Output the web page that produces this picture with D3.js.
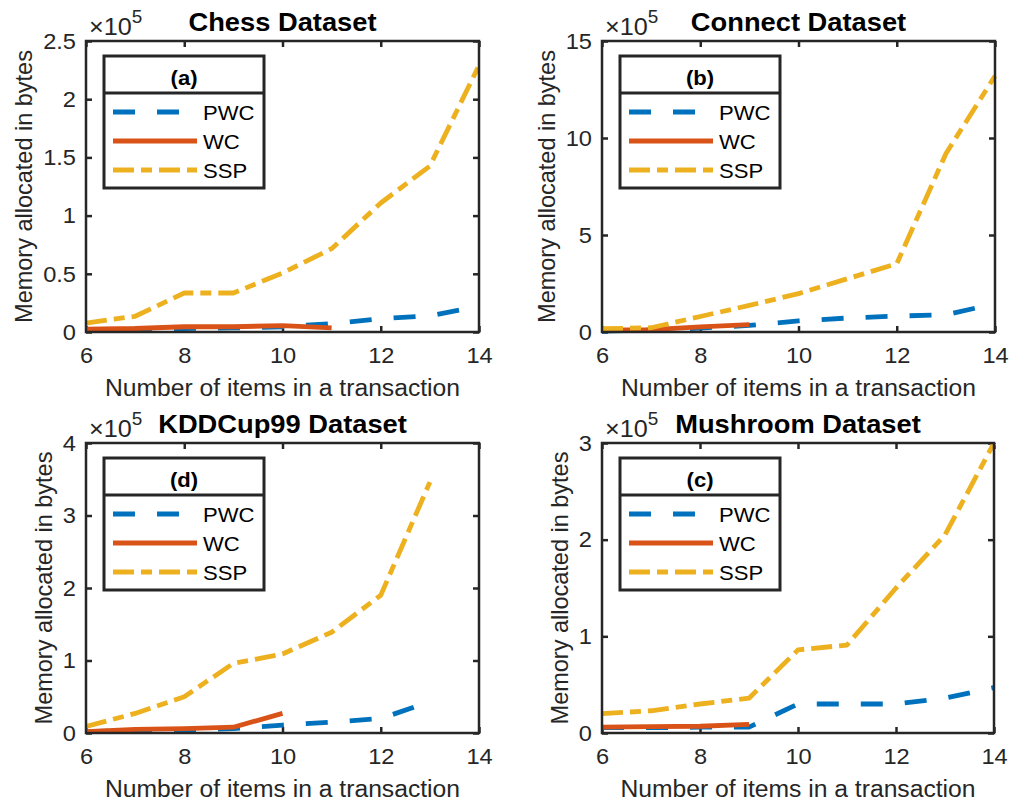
<!DOCTYPE html>
<html><head><meta charset="utf-8">
<script src="https://cdn.jsdelivr.net/npm/d3@7"></script>
<style>
body{margin:0;background:#fff}
text{font-family:"Liberation Sans",Arial,Helvetica,sans-serif}
</style>
</head><body>
<svg id="c" width="1011" height="805"></svg>
<script>
// ---------- data ----------
const xValues = [6, 7, 8, 9, 10, 11, 12, 13, 14];
const xTicks = [6, 8, 10, 12, 14];
const seriesNames = ["PWC", "WC", "SSP"];

// Chess dataset (bytes)
const chessPWC = [2000, 2500, 3000, 3500, 4500, 7200, 11500, 14000, 22000];
const chessWC  = [2500, 3000, 4500, 4500, 5500, 3500];
const chessSSP = [7700, 13500, 33500, 33500, 50700, 71600, 110800, 142600, 229000];
const chessTicks = [0, 50000, 100000, 150000, 200000, 250000];
const chessTickLabels = ["0", "0.5", "1", "1.5", "2", "2.5"];

// Connect dataset (bytes)
const connectPWC = [5000, 10000, 20000, 34000, 57000, 72000, 82000, 89000, 146000];
const connectWC  = [9000, 12000, 26000, 38000];
const connectSSP = [17000, 22000, 80000, 137000, 198000, 275000, 352000, 919000, 1320000];
const connectTicks = [0, 500000, 1000000, 1500000];
const connectTickLabels = ["0", "5", "10", "15"];

// KDDCup99 dataset (bytes)
const kddPWC = [2000, 3000, 4000, 6000, 11000, 15000, 20000, 43000];
const kddWC  = [2000, 5000, 6000, 8000, 27000];
const kddSSP = [9000, 27000, 50000, 96000, 109000, 139000, 190000, 346000];
const kddTicks = [0, 100000, 200000, 300000, 400000];
const kddTickLabels = ["0", "1", "2", "3", "4"];

// Mushroom dataset (bytes)
const mushPWC = [5500, 5500, 6000, 6000, 30000, 30000, 30000, 36000, 47000];
const mushWC  = [6000, 6500, 7000, 9000];
const mushSSP = [20000, 23000, 30000, 36000, 86000, 91000, 150000, 205000, 300000];
const mushTicks = [0, 100000, 200000, 300000];
const mushTickLabels = ["0", "1", "2", "3"];

const titles = ["Chess Dataset", "Connect Dataset", "KDDCup99 Dataset", "Mushroom Dataset"];
const tags = ["(a)", "(b)", "(d)", "(c)"];
const xLabel = "Number of items in a transaction";
const yLabel = "Memory allocated in bytes";

// ---------- layout / style ----------
const panels = [
  {left: 86,  top: 41,  right: 479, bottom: 332, ymax: 250000,  series: [chessPWC, chessWC, chessSSP], ticks: chessTicks, labels: chessTickLabels},
  {left: 602, top: 41,  right: 995, bottom: 332, ymax: 1500000, series: [connectPWC, connectWC, connectSSP], ticks: connectTicks, labels: connectTickLabels},
  {left: 86,  top: 443, right: 479, bottom: 733, ymax: 400000,  series: [kddPWC, kddWC, kddSSP], ticks: kddTicks, labels: kddTickLabels},
  {left: 602, top: 443, right: 994, bottom: 733, ymax: 300000,  series: [mushPWC, mushWC, mushSSP], ticks: mushTicks, labels: mushTickLabels}
];
const colors = ["#0072BD", "#D95319", "#EDB120"];
const dashes = ["22,22", null, "21,7,11,7"];
const LW = 4.8;
const SX = 1.05;           // slight horizontal stretch of the original
const ink = "#262626";

const svg = d3.select("#c");

function stretchText(sel) {
  sel.each(function () {
    const t = d3.select(this);
    const x = +(t.attr("x") || 0), y = +(t.attr("y") || 0);
    t.attr("x", null).attr("y", null)
     .attr("transform", `translate(${x},${y}) scale(${SX},1)`);
  });
}

panels.forEach((p, pi) => {
  const g = svg.append("g");
  const x = d3.scaleLinear().domain([6, 14]).range([p.left, p.right]);
  const y = d3.scaleLinear().domain([0, p.ymax]).range([p.bottom, p.top]);

  // axes (inward ticks on all four sides)
  const ax = g.append("g").attr("transform", `translate(0,${p.bottom})`)
    .call(d3.axisBottom(x).tickValues(xTicks).tickSize(-6).tickPadding(15).tickFormat(d3.format("d")));
  const axT = g.append("g").attr("transform", `translate(0,${p.top})`)
    .call(d3.axisTop(x).tickValues(xTicks).tickSize(-6).tickFormat(""));
  const ay = g.append("g").attr("transform", `translate(${p.left},0)`)
    .call(d3.axisLeft(y).tickValues(p.ticks).tickSize(-6).tickPadding(10).tickFormat((d, i) => p.labels[i]));
  const ayR = g.append("g").attr("transform", `translate(${p.right},0)`)
    .call(d3.axisRight(y).tickValues(p.ticks).tickSize(-6).tickFormat(""));
  [ax, axT, ay, ayR].forEach(a => {
    a.select(".domain").remove();
    a.selectAll(".tick line").attr("stroke", ink).attr("stroke-width", 2.5);
    a.selectAll(".tick text").attr("fill", ink).style("font-size", "22.5px")
      .style("font-family", '"Liberation Sans",Arial,sans-serif');
  });
  ax.selectAll(".tick text").attr("transform", `scale(${SX},1)`);
  ay.selectAll(".tick text").attr("transform", `translate(-10,0) scale(${SX},1) translate(10,0)`);

  // data lines
  const line = d3.line().x(d => x(d[0])).y(d => y(d[1]));
  p.series.forEach((vals, si) => {
    const pts = vals.map((v, i) => [xValues[i], v]);
    g.append("path").datum(pts).attr("d", line)
      .attr("fill", "none").attr("stroke", colors[si]).attr("stroke-width", LW)
      .attr("stroke-linejoin", "round").attr("stroke-linecap", "butt")
      .attr("stroke-dasharray", dashes[si]);
  });

  // box
  g.append("rect").attr("x", p.left).attr("y", p.top)
    .attr("width", p.right - p.left).attr("height", p.bottom - p.top)
    .attr("fill", "none").attr("stroke", ink).attr("stroke-width", 2.5);

  // title
  g.append("text").attr("x", (p.left + p.right) / 2).attr("y", p.top - 10)
    .attr("text-anchor", "middle").style("font-size", "26px").style("font-weight", "bold")
    .attr("fill", "#000").text(titles[pi]).call(stretchText);

  // exponent
  const ex = g.append("text").attr("x", p.left + 3).attr("y", p.top - 6)
    .attr("fill", ink).style("font-size", "24px");
  ex.append("tspan").text("\u00d710");
  ex.append("tspan").attr("dy", -12).style("font-size", "18px").text("5");
  ex.call(stretchText);

  // x label
  g.append("text").attr("x", (p.left + p.right) / 2).attr("y", p.bottom + 64)
    .attr("text-anchor", "middle").attr("fill", ink).style("font-size", "23.5px")
    .text(xLabel).call(stretchText);

  // y label
  const bb = ay.node().getBBox();
  const lx = p.left + bb.x - 11;
  g.append("text")
    .attr("transform", `translate(${lx},${(p.top + p.bottom) / 2}) scale(${SX},1) rotate(-90)`)
    .attr("text-anchor", "middle").attr("fill", ink).style("font-size", "23.5px")
    .text(yLabel);

  // legend
  const L = g.append("g").attr("transform", `translate(${p.left + 18},${p.top + 15})`);
  L.append("rect").attr("width", 160).attr("height", 132)
    .attr("fill", "#fff").attr("stroke", ink).attr("stroke-width", 3);
  L.append("line").attr("x1", 0).attr("x2", 160).attr("y1", 37).attr("y2", 37)
    .attr("stroke", ink).attr("stroke-width", 3);
  L.append("text").attr("x", 80).attr("y", 29).attr("text-anchor", "middle")
    .style("font-size", "21px").style("font-weight", "bold").attr("fill", "#000")
    .text(tags[pi]).call(stretchText);
  seriesNames.forEach((name, si) => {
    const by = 64 + si * 29;
    L.append("line").attr("x1", 9).attr("x2", 93).attr("y1", by - 8).attr("y2", by - 8)
      .attr("stroke", colors[si]).attr("stroke-width", LW)
      .attr("stroke-dasharray", dashes[si]);
    L.append("text").attr("x", 99).attr("y", by).attr("fill", "#000")
      .style("font-size", "21px").text(name).call(stretchText);
  });
});
</script>
</body></html>
